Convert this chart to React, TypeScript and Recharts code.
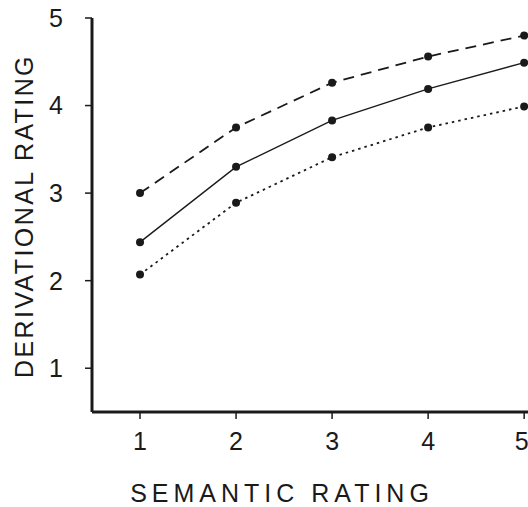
import React from 'react';
import { LineChart, Line, XAxis, YAxis, Label } from 'recharts';

const semantic = [1, 2, 3, 4, 5];
const upper = [3.0, 3.75, 4.26, 4.56, 4.8];
const middle = [2.44, 3.3, 3.83, 4.19, 4.49];
const lower = [2.07, 2.89, 3.41, 3.75, 3.99];
const ticks = [1, 2, 3, 4, 5];

const data = semantic.map((s, i) => ({
  s, upper: upper[i], middle: middle[i], lower: lower[i],
}));

const ink = '#1a1a1a';
const font = '"Liberation Sans", Arial, sans-serif';

const XTitle = ({ viewBox }: any) => (
  <text x={viewBox.x + 190} y={viewBox.y + 90} textAnchor="middle"
    fontFamily={font} fontSize={25} letterSpacing={5} fill={ink}>
    SEMANTIC  RATING
  </text>
);

const YTitle = ({ viewBox }: any) => (
  <text x={24} y={viewBox.y + 198} textAnchor="middle"
    transform={`rotate(-90 24 ${viewBox.y + 198})`} dominantBaseline="central"
    fontFamily={font} fontSize={25} letterSpacing={2.4} fill={ink}>
    DERIVATIONAL  RATING
  </text>
);

const dot = { r: 4, fill: ink, stroke: ink, strokeWidth: 0 };

export default function App() {
  return (
    <div style={{ position: 'absolute', left: 0, top: 0, background: '#fff' }}>
      <LineChart width={528} height={507} data={data}
        margin={{ top: 18, right: 0, left: 0, bottom: 0 }}>
        <XAxis dataKey="s" type="number" domain={[0.5, 5.04]} ticks={ticks}
          height={95} allowDataOverflow
          axisLine={{ stroke: ink, strokeWidth: 3 }}
          tickLine={{ stroke: ink, strokeWidth: 1.5 }} tickSize={7} tickMargin={13}
          tick={{ fill: ink, fontSize: 25, fontFamily: font }}>
          <Label content={<XTitle />} />
        </XAxis>
        <YAxis type="number" domain={[0.5, 5]} ticks={ticks} width={92}
          allowDataOverflow
          axisLine={{ stroke: ink, strokeWidth: 3 }}
          tickLine={{ stroke: ink, strokeWidth: 1.5 }} tickSize={7} tickMargin={22}
          tick={{ fill: ink, fontSize: 25, fontFamily: font }}>
          <Label content={<YTitle />} />
        </YAxis>
        <Line dataKey="upper" stroke={ink} strokeWidth={1.8} strokeDasharray="11 7"
          dot={dot} isAnimationActive={false} />
        <Line dataKey="middle" stroke={ink} strokeWidth={1.4}
          dot={dot} isAnimationActive={false} />
        <Line dataKey="lower" stroke={ink} strokeWidth={1.8} strokeDasharray="2.5 4"
          dot={dot} isAnimationActive={false} />
      </LineChart>
    </div>
  );
}
